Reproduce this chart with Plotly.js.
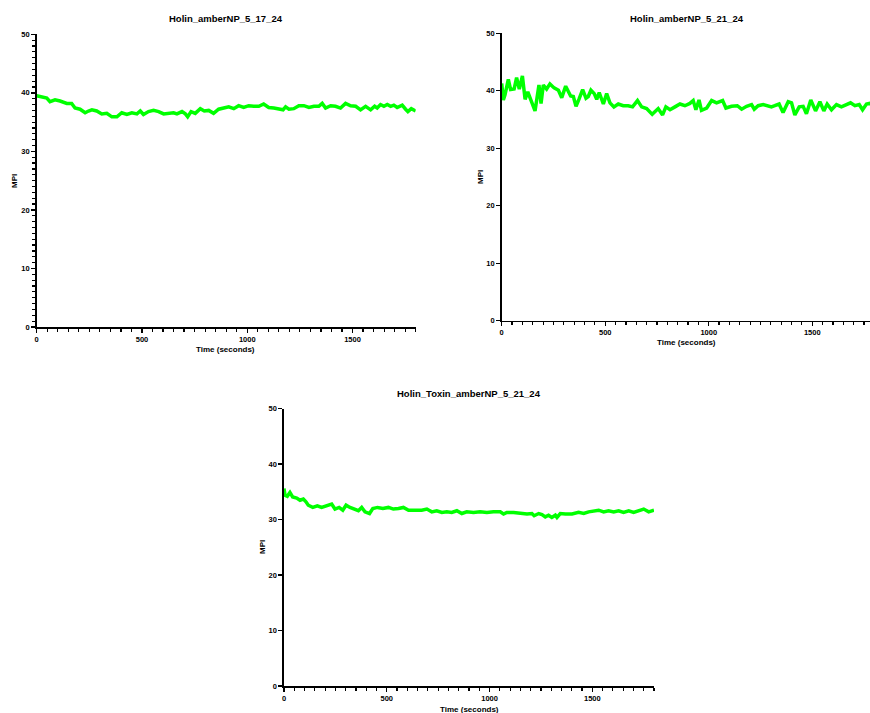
<!DOCTYPE html>
<html>
<head>
<meta charset="utf-8">
<script src="https://cdn.plot.ly/plotly-3.0.1.min.js"></script>
<style>html,body{margin:0;padding:0;background:#fff;}#chart{width:870px;height:713px;}</style>
</head>
<body>
<div id="chart"></div>
<script>
// ---- Data ----
const titles = ["Holin_amberNP_5_17_24", "Holin_amberNP_5_21_24", "Holin_Toxin_amberNP_5_21_24"];
const xTitle = "Time (seconds)";
const yTitle = "MPI";
const xTickVals = [0, 500, 1000, 1500];
const yTickVals = [0, 10, 20, 30, 40, 50];

const t1 = [0,32,48,63,87,111,143,166,182,206,230,246,262,285,309,333,357,381,404,428,452,476,492,507,531,555,579,603,626,650,666,690,706,717,733,753,777,796,817,840,864,888,912,936,959,983,1007,1031,1055,1078,1102,1126,1150,1170,1182,1198,1221,1245,1269,1293,1317,1340,1356,1372,1396,1419,1443,1467,1491,1515,1538,1562,1586,1605,1617,1633,1649,1665,1681,1696,1712,1736,1752,1763,1779,1800];
const mpi1 = [39.5,39.2,39.1,38.5,38.8,38.6,38.2,38.2,37.4,37.2,36.6,36.9,37.1,36.9,36.4,36.5,35.9,35.9,36.6,36.3,36.6,36.4,36.9,36.3,36.8,37.0,36.8,36.4,36.5,36.6,36.4,36.8,36.4,35.9,36.8,36.5,37.3,36.9,37.0,36.5,37.2,37.4,37.6,37.3,37.8,37.5,37.8,37.7,37.7,38.1,37.5,37.4,37.3,37.1,37.6,37.2,37.3,37.8,37.8,37.5,37.7,37.7,38.2,37.4,37.8,37.7,37.4,38.2,37.8,37.7,37.1,37.7,37.1,37.7,37.4,38.0,37.7,38.0,37.7,37.9,37.5,37.9,37.2,36.8,37.3,36.9];

const t2 = [0,8,16,32,43,60,72,85,100,113,126,145,161,180,190,201,217,233,253,274,290,309,333,346,359,373,391,407,418,431,447,459,471,491,507,523,542,563,587,611,632,656,676,700,727,756,777,793,813,837,861,885,909,925,938,953,965,990,1014,1038,1067,1083,1110,1138,1159,1183,1207,1220,1239,1263,1287,1303,1319,1340,1359,1384,1400,1416,1437,1456,1472,1493,1516,1537,1556,1572,1593,1617,1641,1665,1685,1706,1727,1743,1762,1778,1800];
const mpi2 = [41.3,38.4,39.3,42.0,40.2,40.3,42.3,40.3,42.6,38.5,39.8,37.8,36.5,41.0,37.8,41.0,40.3,41.2,40.5,40.1,38.8,40.8,39.1,39.0,37.3,38.5,40.2,38.7,39.0,40.1,39.5,38.5,39.7,37.7,39.5,37.9,37.2,37.7,37.4,37.4,37.2,38.3,37.2,36.9,35.9,36.9,35.8,37.2,36.7,37.2,37.7,37.4,37.8,38.3,36.7,38.4,36.6,37.0,38.3,37.9,38.3,37.0,37.3,37.4,36.8,37.3,37.6,36.8,37.4,37.6,37.4,37.2,37.4,37.7,36.2,38.1,37.9,35.8,37.2,37.3,36.0,38.4,36.5,38.1,36.5,37.7,36.7,37.6,37.2,37.6,37.9,37.4,37.6,36.7,37.7,37.8,37.5];

const t3 = [0,5,16,29,42,62,78,94,107,118,140,162,183,205,232,248,268,286,302,321,341,362,378,394,416,432,455,481,508,532,557,581,606,638,670,695,719,743,768,792,816,841,865,889,922,954,987,1019,1052,1068,1084,1117,1149,1182,1206,1217,1239,1255,1271,1287,1303,1320,1328,1344,1369,1401,1433,1458,1482,1506,1531,1555,1579,1604,1628,1652,1677,1701,1725,1750,1774,1800];
const mpi3 = [35.6,34.4,34.2,34.9,34.1,33.9,33.5,33.7,33.2,32.6,32.2,32.5,32.2,32.5,32.8,31.9,32.2,31.7,32.6,32.2,31.9,31.6,32.2,31.4,31.1,32.0,32.2,32.0,32.2,31.9,32.0,32.2,31.7,31.7,31.7,31.9,31.4,31.6,31.3,31.4,31.3,31.6,31.1,31.4,31.3,31.4,31.3,31.4,31.4,31.0,31.3,31.3,31.1,31.0,31.1,30.7,31.1,30.9,30.5,30.8,30.4,30.8,30.4,31.1,31.0,31.0,31.3,31.1,31.4,31.6,31.7,31.4,31.6,31.4,31.6,31.3,31.6,31.3,31.6,31.9,31.4,31.7];

// ---- Layout helpers (pixel -> paper) ----
const W = 870, H = 713;
const px = x => x / W;
const py = y => 1 - y / H;
const FONT = "Liberation Sans, Arial, Helvetica, sans-serif";
const lineStyle = {color: '#00ff00', width: 3.5};

function trace(x, y, xa, ya) {
  return {x: x, y: y, xaxis: xa, yaxis: ya, type: 'scatter', mode: 'lines',
          line: lineStyle, hoverinfo: 'skip', showlegend: false};
}

function xAxis(domain, range, anchor) {
  return {
    domain: domain, range: range, anchor: anchor,
    showline: true, linecolor: '#000', linewidth: 1.6,
    showgrid: false, zeroline: false,
    ticks: 'outside', ticklen: 4, tickwidth: 1.4, tickcolor: '#000',
    tickmode: 'array', tickvals: xTickVals,
    tickfont: {family: FONT, size: 7.5, color: '#000', weight: 'bold'},
    minor: {dtick: 50, tick0: 0, ticks: 'outside', ticklen: 3, tickwidth: 1.2, tickcolor: '#000', showgrid: false},
    fixedrange: true
  };
}
function yAxis(domain, anchor, withMinor) {
  const a = {
    domain: domain, range: [0, 50], anchor: anchor,
    showline: true, linecolor: '#000', linewidth: 1.6,
    showgrid: false, zeroline: false,
    ticks: 'outside', ticklen: 4, tickwidth: 1.4, tickcolor: '#000',
    tickmode: 'array', tickvals: yTickVals,
    tickfont: {family: FONT, size: 7.5, color: '#000', weight: 'bold'},
    fixedrange: true
  };
  if (withMinor) {
    a.minor = {dtick: 1, tick0: 0, ticks: 'outside', ticklen: 3, tickwidth: 1.2, tickcolor: '#000', showgrid: false};
  }
  return a;
}

function ann(text, x, y, size, angle) {
  return {text: text, xref: 'paper', yref: 'paper', x: px(x), y: py(y),
          xanchor: 'center', yanchor: 'middle', showarrow: false, textangle: angle || 0,
          font: {family: FONT, size: size, color: '#000', weight: 'bold'}};
}

const data = [
  trace(t1, mpi1, 'x', 'y'),
  trace(t2, mpi2, 'x2', 'y2'),
  trace(t3, mpi3, 'x3', 'y3')
];

const layout = {
  width: W, height: H,
  margin: {l: 0, r: 0, t: 0, b: 0},
  paper_bgcolor: '#fff', plot_bgcolor: '#fff',
  showlegend: false,
  xaxis:  xAxis([px(36.7), px(415.7)], [0, 1800], 'y'),
  yaxis:  yAxis([py(327), py(34.3)], 'x', true),
  xaxis2: xAxis([px(501.7), 1], [0, 1779], 'y2'),
  yaxis2: yAxis([py(320.7), py(33.3)], 'x2', false),
  xaxis3: xAxis([px(284), px(654)], [0, 1800], 'y3'),
  yaxis3: yAxis([py(686), py(408.7)], 'x3', false),
  annotations: [
    ann(titles[0], 226, 18, 9.5),
    ann(titles[1], 687, 18, 9.5),
    ann(titles[2], 469, 393, 9.5),
    ann(xTitle, 226, 350, 8),
    ann(xTitle, 686, 343, 8),
    ann(xTitle, 469, 709, 8),
    ann(yTitle, 14, 181, 8, -90),
    ann(yTitle, 480, 177, 8, -90),
    ann(yTitle, 262, 547, 8, -90)
  ]
};

Plotly.newPlot('chart', data, layout, {displayModeBar: false, staticPlot: true});
</script>
</body>
</html>
